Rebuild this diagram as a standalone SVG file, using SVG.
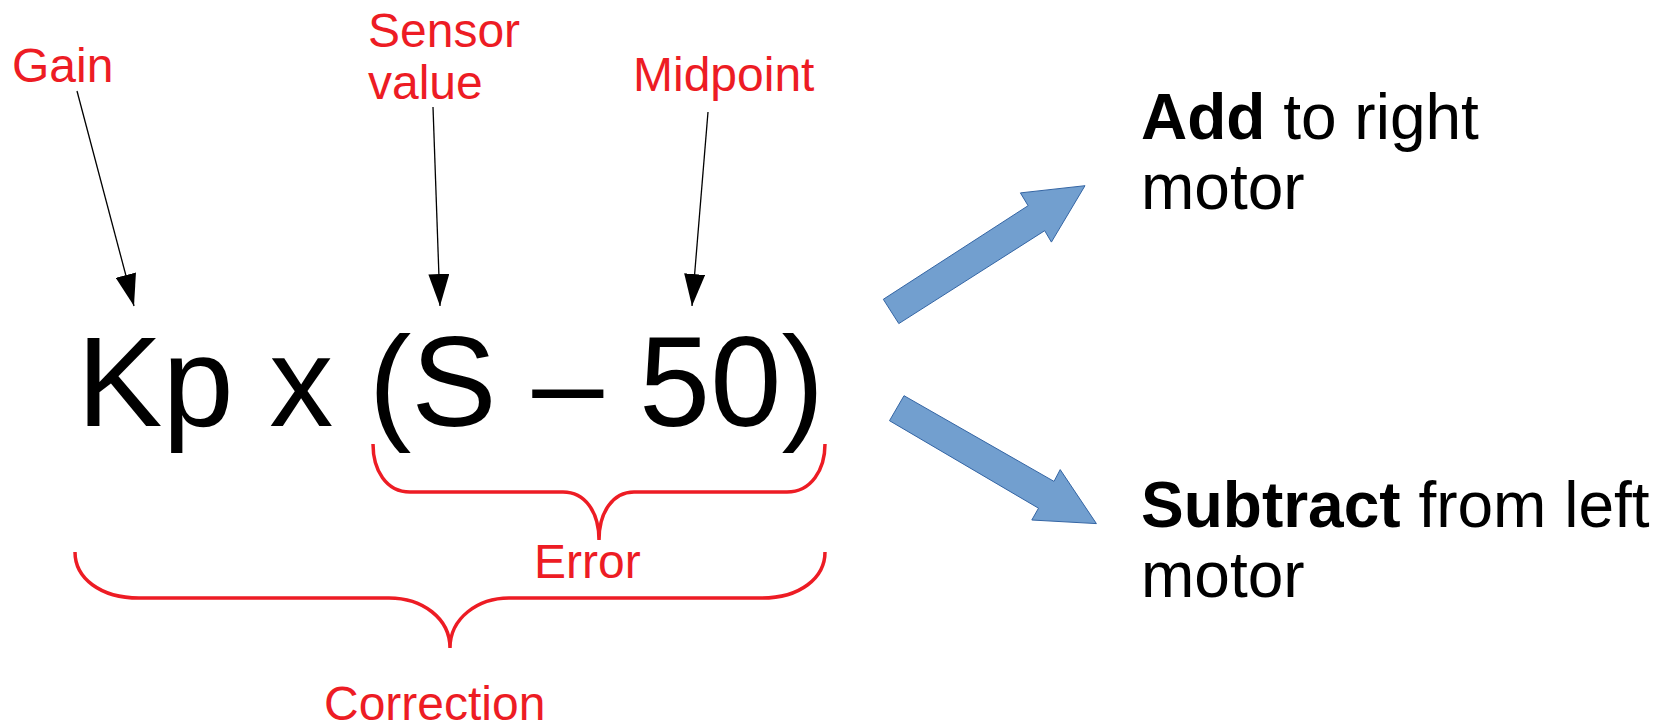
<svg xmlns="http://www.w3.org/2000/svg" width="1671" height="725" viewBox="0 0 1671 725">
<style>
.red{font-family:"Liberation Sans",Arial,sans-serif;font-size:48px;fill:#ed1c24}
.blk{font-family:"Liberation Sans",Arial,sans-serif;fill:#000}
.brace{fill:none;stroke:#ed1c24;stroke-width:3.5}
.ptr{stroke:#000;stroke-width:1.3;fill:none;marker-end:url(#ah)}
.big{fill:#729fcf;stroke:#3465a4;stroke-width:1}
</style>
<defs>
<marker id="ah" markerUnits="userSpaceOnUse" viewBox="0 0 32 21" markerWidth="32" markerHeight="21" refX="32" refY="10.5" orient="auto">
<path d="M0,0 L32,10.5 L0,21 Z" fill="#000"/>
</marker>
</defs>
<rect width="1671" height="725" fill="#fff"/>
<g id="formula">
<text class="blk" x="77" y="426" font-size="128">Kp x (S – 50)</text>
</g>
<g id="gain"><text class="red" x="12" y="82">Gain</text></g>
<g id="sensor"><text class="red" x="368" y="47">Sensor</text><text class="red" x="368" y="99">value</text></g>
<g id="midpoint"><text class="red" x="633" y="91">Midpoint</text></g>
<g id="error"><text class="red" x="534" y="578">Error</text></g>
<g id="correction"><text class="red" x="324" y="720">Correction</text></g>
<g id="add"><text class="blk" x="1141" y="139" font-size="64"><tspan font-weight="bold">Add</tspan> to right</text><text class="blk" x="1141" y="209" font-size="64">motor</text></g>
<g id="subtract"><text class="blk" x="1141" y="527" font-size="64"><tspan font-weight="bold">Subtract</tspan> from left</text><text class="blk" x="1141" y="597" font-size="64">motor</text></g>
<g id="connectors">
<line class="ptr" x1="77" y1="91" x2="134" y2="306"/>
<line class="ptr" x1="433" y1="107" x2="440" y2="306"/>
<line class="ptr" x1="708" y1="112" x2="692" y2="306"/>
<path class="brace" d="M373,444 C373,470 386,492 410,492 L563,492 C585,492 599,512 599,540 C599,512 613,492 634,492 L787,492 C811,492 825,470 825,444"/>
<path class="brace" d="M75,552 C75,578 100,598 139,598 L389,598 C422,598 450,618 450,648 C450,618 478,598 509,598 L762,598 C800,598 825,578 825,552"/>
<polygon class="big" points="883.3,299.3 898.8,323.6 1044.7,230.7 1051.4,242.1 1085,185.7 1020.4,192.9 1028.1,205.7"/>
<polygon class="big" points="904,395.7 889.5,420.7 1038.5,508.2 1031.8,520 1096.4,523.6 1060.2,469.6 1054,481.4"/>
</g>
</svg>
